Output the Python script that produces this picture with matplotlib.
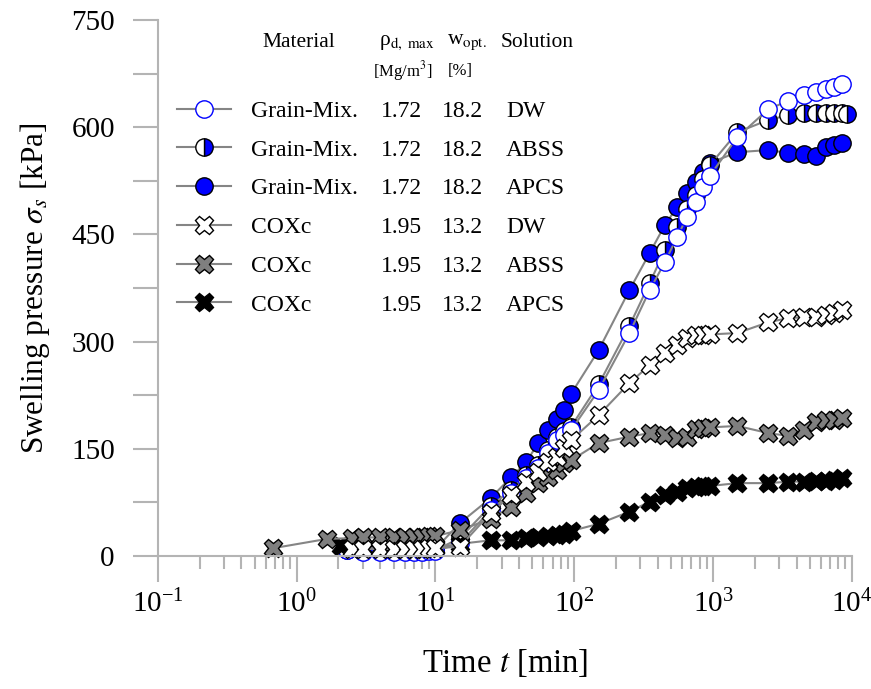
import matplotlib
matplotlib.use("Agg")
import matplotlib.pyplot as plt
from matplotlib.ticker import FixedLocator, NullFormatter, LogLocator

plt.rcParams["font.family"] = ["Liberation Serif", "DejaVu Serif"]
plt.rcParams["mathtext.fontset"] = "stix"

# time grids [min]
t_grain = [2.3, 3, 4, 5, 6, 7, 8, 9, 10, 15, 25, 35, 45, 55, 65, 75, 85, 95,
           150, 250, 350, 450, 550, 650, 750, 850, 950,
           1500, 2500, 3500, 4500, 5500, 6500, 7500, 8500]
t_grain_abss = t_grain + [9300]
t_cox_dw = [2.5, 3, 4, 5, 6, 7, 8, 9, 10, 15, 25, 35, 45, 55, 65, 75, 85, 95,
            150, 250, 350, 450, 550, 650, 750, 850, 950,
            1500, 2500, 3500, 4500, 5500, 6500, 7500, 8500]
t_cox_abss = [0.68, 1.66, 2.5, 3, 4, 5, 6, 7, 8, 9, 10, 15, 25, 35, 45, 55, 65, 75, 85, 95,
              150, 250, 350, 450, 550, 650, 750, 850, 950,
              1500, 2500, 3500, 4500, 5500, 6500, 7500, 8500]
t_cox_apcs = [2.1, 3, 4, 5, 6, 7, 8, 9, 10, 15, 25, 35, 45, 55, 65, 75, 85, 95,
              150, 250, 350, 450, 550, 650, 750, 850, 950,
              1500, 2500, 3500, 4500, 5500, 6500, 7500, 8500]

# swelling pressure [kPa]
grain_dw = [8, 6, 6, 6, 6, 6, 6, 7, 7, 18, 64, 88, 109, 123, 144, 162, 170, 176,
            232, 312, 372, 411, 446, 474, 495, 516, 532,
            586, 625, 637, 645, 649, 653, 656, 660]
grain_abss = [9, 7, 7, 7, 7, 7, 7, 8, 8, 25, 70, 92, 113, 128, 148, 167, 175, 181,
              240, 322, 382, 428, 460, 485, 505, 528, 547,
              593, 610, 617, 620, 620, 620, 620, 620, 619]
grain_apcs = [14, 10, 9, 9, 9, 9, 9, 10, 10, 46, 81, 110, 131, 158, 176, 192, 204, 227,
              288, 372, 424, 463, 488, 508, 523, 537, 550,
              565, 568, 564, 563, 560, 572, 575, 578]
cox_dw = [10, 10, 10, 10, 10, 10, 10, 11, 11, 13, 60, 85, 104, 118, 132, 139, 151, 162,
          197, 242, 267, 284, 295, 305, 309, 309, 310,
          312, 327, 333, 334, 335, 337, 340, 344]
cox_abss = [11, 24, 25, 26, 26, 27, 27, 27, 27, 28, 28, 36, 52, 69, 88, 102, 111, 120, 130, 134,
            158, 167, 172, 170, 165, 167, 178, 179, 180,
            182, 172, 168, 177, 188, 190, 191, 193]
cox_apcs = [14, 11, 11, 11, 11, 11, 11, 12, 12, 17, 22, 22, 25, 26, 28, 30, 31, 35,
            45, 62, 76, 85, 90, 95, 97, 98, 98,
            102, 102, 104, 104, 105, 105, 107, 109]

materials = ["Grain-Mix.", "Grain-Mix.", "Grain-Mix.", "COXc", "COXc", "COXc"]
densities = ["1.72", "1.72", "1.72", "1.95", "1.95", "1.95"]
water = ["18.2", "18.2", "18.2", "13.2", "13.2", "13.2"]
solutions = ["DW", "ABSS", "APCS", "DW", "ABSS", "APCS"]

LINE = "#858585"
AXC = "#b4b4b4"

fig = plt.figure(figsize=(8.71, 6.89), dpi=100)
ax = fig.add_axes([0.1812, 0.193, 0.7967, 0.778])

common = dict(color=LINE, lw=1.5, clip_on=False)
circ = dict(marker="o", ms=12.5, mew=1)
cross = dict(marker="X", ms=13, mew=1)
h_g_apcs, = ax.plot(t_grain, grain_apcs, mfc="#0000ff", mec="black", **circ, **common)
h_g_abss, = ax.plot(t_grain_abss, grain_abss, fillstyle="right", mfc="#0000ff",
                    mfcalt="white", mec="black", **circ, **common)
h_g_dw, = ax.plot(t_grain, grain_dw, mfc="white", mec="#0000ff", **circ, **common)
h_c_apcs, = ax.plot(t_cox_apcs, cox_apcs, mfc="black", mec="black", **cross, **common)
h_c_abss, = ax.plot(t_cox_abss, cox_abss, mfc="#7f7f7f", mec="black", **cross, **common)
h_c_dw, = ax.plot(t_cox_dw, cox_dw, mfc="white", mec="black", **cross, **common)

ax.set_xscale("log")
ax.set_xlim(0.1, 1e4)
ax.set_ylim(0, 750)
ax.yaxis.set_major_locator(FixedLocator([0, 150, 300, 450, 600, 750]))
ax.yaxis.set_minor_locator(FixedLocator([75, 225, 375, 525, 675]))
ax.xaxis.set_major_locator(LogLocator(base=10, numticks=10))
ax.xaxis.set_minor_locator(LogLocator(base=10, subs=range(2, 10), numticks=20))
ax.xaxis.set_minor_formatter(NullFormatter())

for s in ["top", "right"]:
    ax.spines[s].set_visible(False)
for s in ["left", "bottom"]:
    ax.spines[s].set_color(AXC)
    ax.spines[s].set_linewidth(1.5)
ax.tick_params(axis="x", which="major", length=19, width=1.5, color=AXC, pad=5, labelsize=21)
ax.tick_params(axis="x", which="minor", length=9, width=1.5, color=AXC)
ax.tick_params(axis="y", which="both", length=18, width=1.5, color=AXC, pad=13, labelsize=21)

ax.set_xlabel("Time $t$ [min]", fontsize=23.5, labelpad=21)
ax.set_ylabel(r"Swelling pressure $\sigma_s$ [kPa]", fontsize=22.5, labelpad=14)

handles = [h_g_dw, h_g_abss, h_g_apcs, h_c_dw, h_c_abss, h_c_apcs]
leg = ax.legend(handles, materials, loc="upper left", bbox_to_anchor=(0.0277, 0.85),
                frameon=False, fontsize=17, handlelength=2.3, handletextpad=0.85,
                labelspacing=0.73, borderpad=0, borderaxespad=0, numpoints=1)

fig.canvas.draw()
renderer = fig.canvas.get_renderer()
inv = ax.transAxes.inverted()
for txt, d, w, sol in zip(leg.get_texts(), densities, water, solutions):
    bb = txt.get_window_extent(renderer)
    y0 = inv.transform((0, bb.y0))[1]
    ax.text(0.3216, y0, d, transform=ax.transAxes, fontsize=17, va="bottom")
    ax.text(0.4095, y0, w, transform=ax.transAxes, fontsize=17, va="bottom")
    ax.text(0.502, y0, sol, transform=ax.transAxes, fontsize=17, va="bottom")

ax.text(0.2035, 0.958, "Material", transform=ax.transAxes, fontsize=15.5, ha="center", va="center")
ax.text(0.319, 0.958, r"ρ$_\mathrm{d,\ max}$", transform=ax.transAxes, fontsize=15.5, ha="left", va="center")
ax.text(0.353, 0.905, r"[Mg/m$^3$]", transform=ax.transAxes, fontsize=12, ha="center", va="center")
ax.text(0.417, 0.958, r"w$_\mathrm{opt.}$", transform=ax.transAxes, fontsize=15.5, ha="left", va="center")
ax.text(0.436, 0.905, "[%]", transform=ax.transAxes, fontsize=12, ha="center", va="center")
ax.text(0.546, 0.958, "Solution", transform=ax.transAxes, fontsize=15.5, ha="center", va="center")

fig.savefig("out.png", dpi=100)
